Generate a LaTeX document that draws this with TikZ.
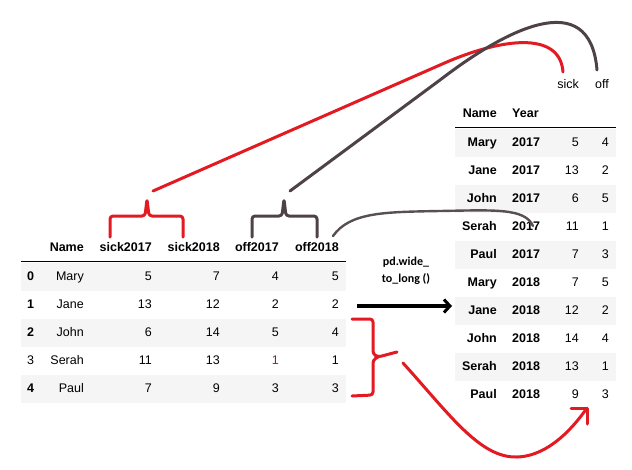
\documentclass[tikz,border=0pt]{standalone}
\usepackage{fontspec}
\setmainfont{Liberation Sans}
\newfontfamily\lblfont{Carlito}
\usetikzlibrary{arrows.meta}
\definecolor{redl}{RGB}{226,26,34}
\definecolor{darkl}{RGB}{78,66,72}
\definecolor{grayl}{RGB}{88,78,84}
\definecolor{shade}{RGB}{245,245,245}
\definecolor{oddone}{RGB}{120,45,45}
\begin{document}
\begin{tikzpicture}[x=1pt,y=-1pt,
  font=\fontsize{12.5}{14}\selectfont,
  cellR/.style={anchor=base east, inner sep=0pt},
  cellL/.style={anchor=base west, inner sep=0pt},
  bf/.style={font=\fontsize{12.5}{14}\selectfont\bfseries},
  rowshade/.style={fill=shade, draw=none},
  redpen/.style={draw=redl, line width=3pt, line cap=round, line join=round},
  darkpen/.style={draw=darkl, line width=3pt, line cap=round, line join=round},
  graypen/.style={draw=grayl, line width=2.4pt, line cap=round},
  blackarrow/.style={draw=black, line width=3.2pt, -{Straight Barb[length=6pt,width=13pt,line width=3pt]}}]
\useasboundingbox (0,0) rectangle (632,469);

% ---------- left table ----------
\foreach \r in {0,2,4}{
  \pgfmathsetmacro\yt{263+28*\r}
  \fill[rowshade] (21,\yt) rectangle (346,\yt+28);
}
\draw[line width=1pt] (21,261) -- (346,261);
\node[cellR,bf] (lhName) at (84,251) {Name};
\node[cellR,bf] (lhs7) at (152,251) {sick2017};
\node[cellR,bf] (lhs8) at (220,251) {sick2018};
\node[cellR,bf] (lho7) at (279,251) {off2017};
\node[cellR,bf] (lho8) at (339,251) {off2018};
\foreach \r/\nm/\a/\b/\c/\d in {0/Mary/5/7/4/5,1/Jane/13/12/2/2,2/John/6/14/5/4,3/Serah/11/13/1/1,4/Paul/7/9/3/3}{
  \pgfmathsetmacro\yb{280+28*\r}
  \ifnum\r=3
    \node[cellL] (li\r) at (27,\yb) {\r};
    \node[cellR,text=oddone] (lc\r) at (279,\yb) {\c};
  \else
    \node[cellL,bf] (li\r) at (27,\yb) {\r};
    \node[cellR] (lc\r) at (279,\yb) {\c};
  \fi
  \node[cellR] (ln\r) at (84,\yb) {\nm};
  \node[cellR] (la\r) at (152,\yb) {\a};
  \node[cellR] (lb\r) at (220,\yb) {\b};
  \node[cellR] (ld\r) at (339,\yb) {\d};
}

% ---------- right table ----------
\foreach \r in {0,2,4,6,8}{
  \pgfmathsetmacro\yt{129+28*\r}
  \fill[rowshade] (455,\yt) rectangle (616,\yt+28);
}
\draw[line width=1pt] (455,127) -- (616,127);
\node[cellR] (rsick) at (579,88) {sick};
\node[cellR] (roff) at (609,88) {off};
\node[cellR,bf] (rhName) at (497,117) {Name};
\node[cellL,bf] (rhYear) at (512,117) {Year};
\foreach \r/\nm/\yr/\a/\b in {0/Mary/2017/5/4,1/Jane/2017/13/2,2/John/2017/6/5,3/Serah/2017/11/1,4/Paul/2017/7/3,5/Mary/2018/7/5,6/Jane/2018/12/2,7/John/2018/14/4,8/Serah/2018/13/1,9/Paul/2018/9/3}{
  \pgfmathsetmacro\yb{146+28*\r}
  \node[cellR,bf] (rn\r) at (497,\yb) {\nm};
  \node[cellL,bf] (ry\r) at (512,\yb) {\yr};
  \node[cellR] (ra\r) at (579,\yb) {\a};
  \node[cellR] (rb\r) at (609,\yb) {\b};
}

% ---------- braces ----------
\draw[redpen, rounded corners=3pt] (110,237) -- (110,216) -- (145,216) -- (147,199) -- (149,216) -- (183,216) -- (183,237);
\draw[darkpen, rounded corners=3pt] (252,237) -- (252,216) -- (282,216) -- (284,199) -- (286,216) -- (317,216) -- (317,237);

% ---------- connectors to the right header ----------
\coordinate (redstart) at (153,191);
\coordinate (redend) at (563,72);
\coordinate (darkstart) at (290,191);
\coordinate (darkend) at (597,70);
\draw[redpen] (redstart) -- (440,65) .. controls (500,38) and (560,30) .. (redend);
\draw[darkpen] (darkstart) -- (440,80) .. controls (505,30) and (590,-15) .. (darkend);

% gray curve from off2018 header
\coordinate (gstart) at (333,236);
\coordinate (gend) at (533,226);
\draw[graypen] (gstart) .. controls (350,212) and (385,212) .. (440,211) .. controls (495,210) and (525,208) .. (gend);

% ---------- main arrow ----------
\coordinate (astart) at (357,306);
\coordinate (aend) at (452,306);
\draw[blackarrow] (astart) -- (aend);
\node[align=center, font=\lblfont\bfseries\fontsize{12}{17}\selectfont, inner sep=0pt] (lbl) at (406,271) {pd.wide\_\\to\_long ()};

% ---------- right brace and red arrow ----------
\draw[redpen, rounded corners=3pt] (352,319) -- (373,319) -- (373,354) -- (378,357) -- (397,352);
\draw[redpen, rounded corners=3pt] (378,357) -- (373,360) -- (373,395) -- (352,396);
\coordinate (bstart) at (403,363);
\coordinate (btip) at (587,408);
\draw[redpen] (bstart) .. controls (450,415) and (480,458) .. (517,457) .. controls (550,456) and (575,425) .. (btip);
\draw[redpen] (571,408) -- (btip) -- (587,424);
\end{tikzpicture}
\end{document}
